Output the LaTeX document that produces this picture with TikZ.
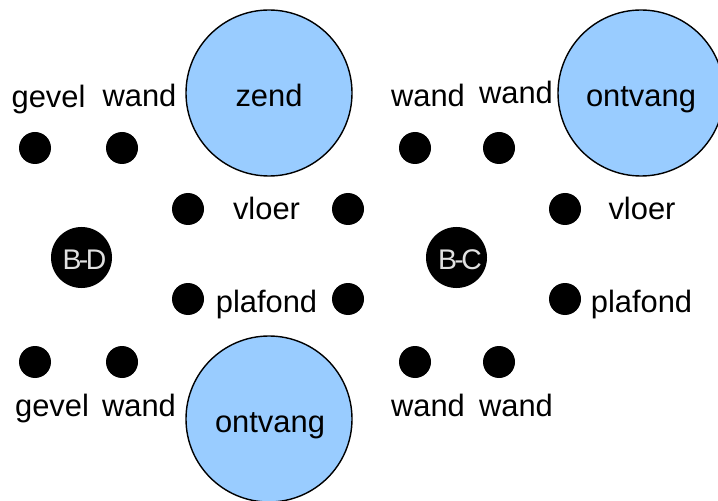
\documentclass[tikz,border=0pt]{standalone}
\usepackage{fontspec}
\setmainfont{Liberation Sans}
\definecolor{lblue}{RGB}{153,204,255}
\definecolor{lgray}{RGB}{225,225,225}
\begin{document}
\begin{tikzpicture}[x=1bp,y=-1bp,
  dot/.style={circle,fill=black,inner sep=0pt,minimum size=32bp},
  room/.style={circle,draw=black,line width=1.4bp,fill=lblue,inner sep=0pt,minimum size=166bp},
  bnode/.style={circle,fill=black,inner sep=0pt,minimum size=61bp},
  txt/.style={anchor=base,inner sep=0pt,font=\fontsize{31}{36}\selectfont},
  btxt/.style={anchor=base,inner sep=0pt,text=lgray,font=\fontsize{28.5}{32}\selectfont}]
\useasboundingbox (0,0) rectangle (718,501);
\clip (0,0) rectangle (718,501);
% big circles
\node[room] (zend) at (269,93) {};
\node[room] (ontR) at (641,93) {};
\node[room] (ontB) at (269,419) {};
\node[txt] (tzend) at (269,107) {zend};
\node[txt] (tontR) at (641,107) {ontvang};
\node[txt] (tontB) at (270,432) {ontvang};
% B nodes
\node[bnode] (BD) at (81.5,257.5) {};
\node[bnode] (BC) at (456.5,257.5) {};
\node[btxt] (tBD) at (84.5,270) {B\kern-2.5bp-\kern-2.5bp D};
\node[btxt] (tBC) at (460,270) {B\kern-2.5bp-\kern-2.5bp C};
% dots
\node[dot] (d1) at (35,148) {};
\node[dot] (d2) at (122,148) {};
\node[dot] (d3) at (415,148) {};
\node[dot] (d4) at (499,148) {};
\node[dot] (d5) at (188,209) {};
\node[dot] (d6) at (348,209) {};
\node[dot] (d7) at (565,209) {};
\node[dot] (d8) at (188,299) {};
\node[dot] (d9) at (348,299) {};
\node[dot] (d10) at (565,299) {};
\node[dot] (d11) at (35,362) {};
\node[dot] (d12) at (122,362) {};
\node[dot] (d13) at (415,362) {};
\node[dot] (d14) at (499,362) {};
% labels
\node[txt] (l1) at (48.5,108) {gevel};
\node[txt] (l2) at (139.5,107) {wand};
\node[txt] (l3) at (428,107) {wand};
\node[txt] (l4) at (516,104) {wand};
\node[txt] (l5) at (266.5,220) {vloer};
\node[txt] (l6) at (642,220) {vloer};
\node[txt] (l7) at (266.5,312) {plafond};
\node[txt] (l8) at (641.5,312) {plafond};
\node[txt] (l9) at (52,416) {gevel};
\node[txt] (l10) at (139,416) {wand};
\node[txt] (l11) at (428,416) {wand};
\node[txt] (l12) at (516,416) {wand};
\end{tikzpicture}
\end{document}
